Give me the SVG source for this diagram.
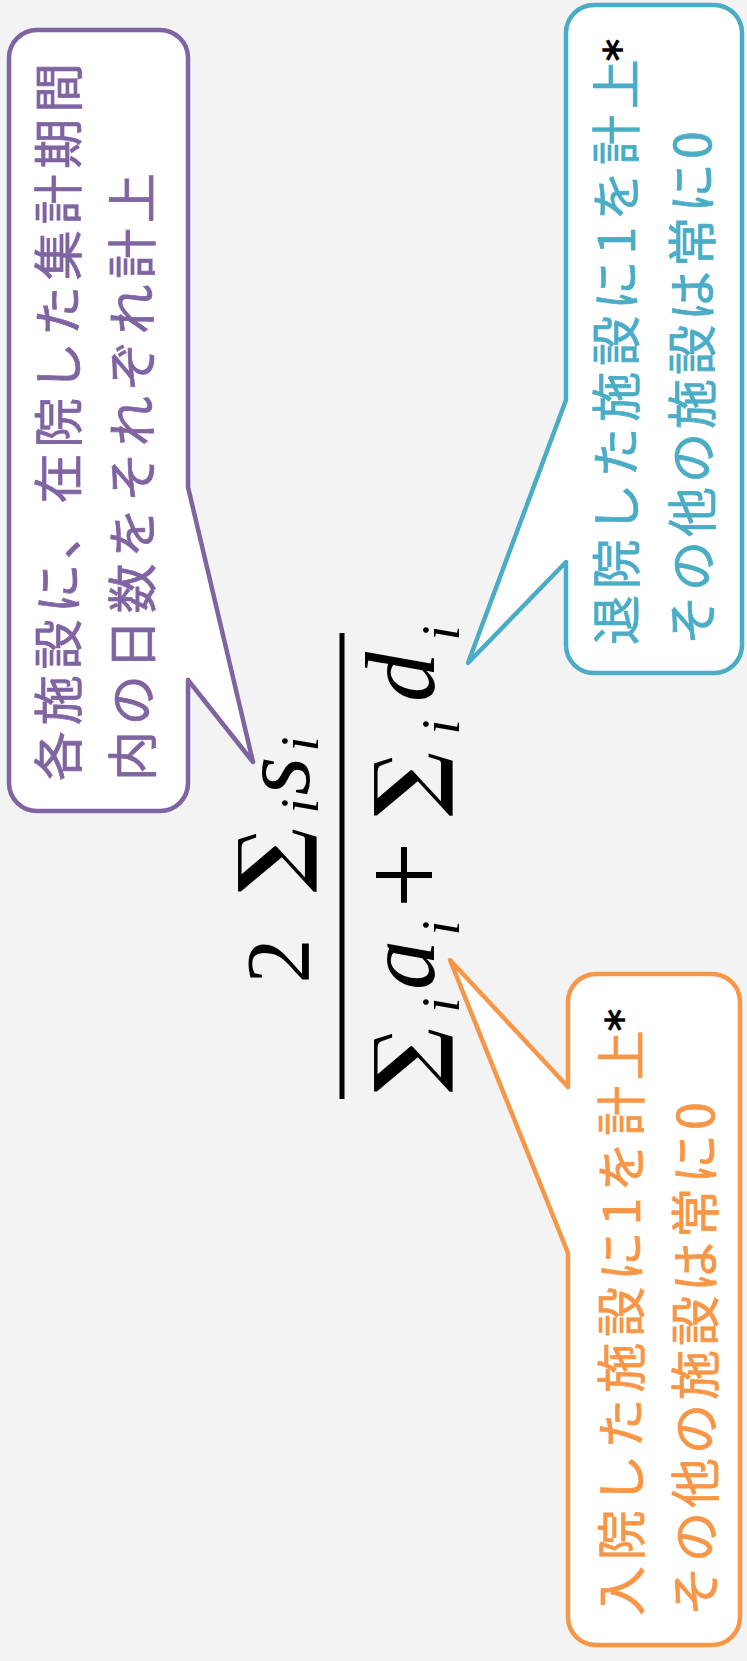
<svg xmlns="http://www.w3.org/2000/svg" width="747" height="1661" viewBox="0 0 747 1661">
<style>
.bub{fill:#fff;stroke-width:4.5;stroke-linejoin:round}
.jp{font-family:"Noto Sans CJK JP","Noto Sans CJK SC",sans-serif;font-size:50px;letter-spacing:5.8px;stroke-width:0.7px}
.l2{letter-spacing:4px}
.ast{font-family:"DejaVu Sans",sans-serif;font-weight:bold;font-size:44px;fill:#000;text-anchor:middle}
.m{font-family:"Liberation Serif",serif;font-size:90px;fill:#000;text-anchor:middle}
.mi{font-family:"Liberation Serif",serif;font-style:italic;font-size:100px;fill:#000;text-anchor:middle}
.sub{font-family:"Liberation Serif",serif;font-style:italic;font-size:54px;fill:#000;text-anchor:middle}
.sum{font-family:"DejaVu Serif",serif;font-weight:bold;font-size:86px;fill:#000;text-anchor:middle}
</style>
<rect x="0" y="0" width="747" height="1661" fill="#f3f3f3"/>

<g id="note-stay">
<path class="bub" stroke="#8064A2" d="M37,30 H160 A28,28 0 0 1 188,58 V487 L253,762 L188,680 V783 A28,28 0 0 1 160,811 H37 A28,28 0 0 1 9,783 V58 A28,28 0 0 1 37,30 Z"/>
<text class="jp" fill="#8064A2" stroke="#8064A2" transform="translate(77,781) rotate(-90)">各施設に、在院した集計期間</text>
<text class="jp" fill="#8064A2" stroke="#8064A2" transform="translate(151,781) rotate(-90)">内の日数をそれぞれ計上</text>
</g>

<g id="note-discharge">
<path class="bub" stroke="#4BACC6" d="M594,5 H714 A28,28 0 0 1 742,33 V645 A28,28 0 0 1 714,673 H594 A28,28 0 0 1 566,645 V562 L468,663 L566,400 V33 A28,28 0 0 1 594,5 Z"/>
<text class="jp" fill="#4BACC6" stroke="#4BACC6" transform="translate(635,645) rotate(-90)">退院した施設に1を計上</text>
<text class="ast" transform="translate(635,50) rotate(-90)">*</text>
<text class="jp l2" fill="#4BACC6" stroke="#4BACC6" transform="translate(711,645) rotate(-90)">その他の施設は常に0</text>
</g>

<g id="note-admit">
<path class="bub" stroke="#F79646" d="M596,974 H712 A28,28 0 0 1 740,1002 V1617 A28,28 0 0 1 712,1645 H596 A28,28 0 0 1 568,1617 V1253 L450,960 L568,1087 V1002 A28,28 0 0 1 596,974 Z"/>
<text class="jp" fill="#F79646" stroke="#F79646" transform="translate(640,1616) rotate(-90)">入院した施設に1を計上</text>
<text class="ast" transform="translate(637,1020) rotate(-90)">*</text>
<text class="jp l2" fill="#F79646" stroke="#F79646" transform="translate(714,1616) rotate(-90)">その他の施設は常に0</text>
</g>

<g id="formula" transform="translate(0,1661) rotate(-90)">
<line x1="562" y1="342" x2="1028" y2="342" stroke="#000" stroke-width="5"/>
<text class="m" x="700" y="309">2</text>
<text class="sum" x="801" y="300">∑</text>
<text class="sub" x="855" y="318">i</text>
<text class="mi" x="885" y="309">s</text>
<text class="sub" x="917" y="318">i</text>
<text class="sum" x="601" y="436">∑</text>
<text class="sub" x="656" y="459">i</text>
<text class="mi" x="696" y="434">a</text>
<text class="sub" x="733" y="459">i</text>
<text class="m" x="786" y="444" style="font-size:120px">+</text>
<text class="sum" x="877" y="436">∑</text>
<text class="sub" x="934" y="459">i</text>
<text class="mi" x="984" y="434">d</text>
<text class="sub" x="1028" y="459">i</text>
</g>
</svg>
